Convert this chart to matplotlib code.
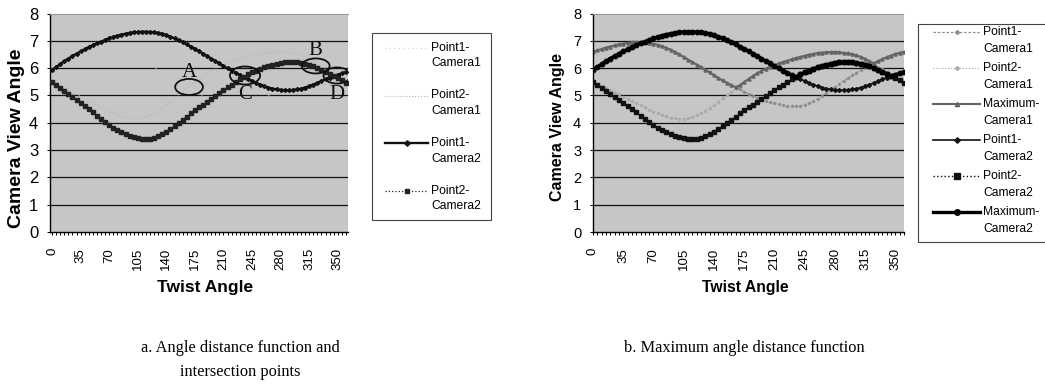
import numpy as np
import matplotlib
matplotlib.use("Agg")
import matplotlib.pyplot as plt
from matplotlib.patches import Ellipse, Rectangle
from matplotlib.lines import Line2D

# ---------------- data ----------------
twist_angle = list(range(0, 361, 5))
x_tick_values = [0, 35, 70, 105, 140, 175, 210, 245, 280, 315, 350]
y_tick_values = [0, 1, 2, 3, 4, 5, 6, 7, 8]

point1_camera1 = [6.60, 6.65, 6.70, 6.75, 6.79, 6.83, 6.87, 6.90, 6.92, 6.94, 6.95, 6.95, 6.94,
                  6.92, 6.89, 6.85, 6.80, 6.74, 6.67, 6.59, 6.50, 6.41, 6.31, 6.22, 6.13, 6.04,
                  5.94, 5.84, 5.74, 5.64, 5.55, 5.46, 5.38, 5.30, 5.22, 5.14, 5.06, 4.99, 4.92,
                  4.86, 4.80, 4.75, 4.71, 4.67, 4.64, 4.62, 4.61, 4.61, 4.63, 4.66, 4.71, 4.79,
                  4.88, 4.98, 5.09, 5.20, 5.31, 5.42, 5.53, 5.63, 5.73, 5.83, 5.92, 6.01, 6.10,
                  6.18, 6.26, 6.33, 6.40, 6.46, 6.52, 6.56, 6.60]
point2_camera1 = [5.45, 5.39, 5.33, 5.26, 5.19, 5.12, 5.04, 4.96, 4.88, 4.80, 4.72, 4.64, 4.56,
                  4.48, 4.41, 4.34, 4.28, 4.23, 4.19, 4.16, 4.15, 4.15, 4.17, 4.21, 4.27, 4.35,
                  4.44, 4.54, 4.65, 4.77, 4.89, 5.01, 5.13, 5.25, 5.37, 5.49, 5.60, 5.71, 5.81,
                  5.90, 5.98, 6.05, 6.11, 6.17, 6.22, 6.27, 6.32, 6.37, 6.41, 6.45, 6.49, 6.52,
                  6.55, 6.57, 6.58, 6.59, 6.59, 6.58, 6.56, 6.54, 6.51, 6.47, 6.41, 6.34, 6.25,
                  6.15, 6.05, 5.95, 5.85, 5.75, 5.65, 5.55, 5.45]
point1_camera2 = [5.93, 6.04, 6.15, 6.25, 6.35, 6.44, 6.53, 6.61, 6.69, 6.77, 6.84, 6.91, 6.97,
                  7.03, 7.09, 7.14, 7.19, 7.23, 7.26, 7.29, 7.31, 7.32, 7.33, 7.33, 7.32, 7.31,
                  7.29, 7.26, 7.21, 7.15, 7.09, 7.02, 6.95, 6.87, 6.79, 6.71, 6.62, 6.53, 6.44,
                  6.35, 6.26, 6.17, 6.08, 5.99, 5.91, 5.83, 5.75, 5.67, 5.60, 5.53, 5.46, 5.40,
                  5.34, 5.29, 5.25, 5.22, 5.20, 5.19, 5.19, 5.20, 5.22, 5.25, 5.29, 5.34, 5.40,
                  5.46, 5.53, 5.59, 5.65, 5.71, 5.76, 5.81, 5.86]
point2_camera2 = [5.50, 5.40, 5.29, 5.18, 5.07, 4.96, 4.85, 4.74, 4.62, 4.50, 4.38, 4.26, 4.14,
                  4.03, 3.92, 3.82, 3.73, 3.65, 3.58, 3.52, 3.47, 3.44, 3.42, 3.41, 3.42, 3.45,
                  3.50, 3.57, 3.66, 3.76, 3.87, 3.98, 4.10, 4.22, 4.35, 4.47, 4.57, 4.66, 4.77,
                  4.88, 4.98, 5.09, 5.19, 5.30, 5.40, 5.50, 5.59, 5.67, 5.77, 5.84, 5.91, 5.97,
                  6.03, 6.08, 6.12, 6.16, 6.19, 6.21, 6.22, 6.22, 6.21, 6.19, 6.16, 6.12, 6.07,
                  6.01, 5.94, 5.87, 5.79, 5.71, 5.63, 5.55, 5.47]
maximum_camera1 = np.maximum(point1_camera1, point2_camera1)
maximum_camera2 = np.maximum(point1_camera2, point2_camera2)

labels_a = ["Point1-\nCamera1", "Point2-\nCamera1", "Point1-\nCamera2", "Point2-\nCamera2"]
labels_b = ["Point1-\nCamera1", "Point2-\nCamera1", "Maximum-\nCamera1",
            "Point1-\nCamera2", "Point2-\nCamera2", "Maximum-\nCamera2"]

# annotation marks in chart a: (letter, ellipse centre, ellipse size, letter position)
marks = [("A", (167.8, 5.31), (34, 0.59), (167.8, 5.84)),
         ("B", (323.0, 6.08), (34, 0.55), (322.0, 6.64)),
         ("C", (236.4, 5.73), (37, 0.66), (236.4, 5.02)),
         ("D", (349.0, 5.73), (33, 0.59), (349.0, 5.02))]

caption_a = "a. Angle distance function and\nintersection points"
caption_b = "b. Maximum angle distance function"

# ---------------- styles ----------------
styles_a = [dict(color="#cdcdcd", lw=0.8, ls=(0, (1, 3))),
            dict(color="#b4b4b4", lw=0.8, ls=":"),
            dict(color="#111111", lw=1.7, marker="D", ms=2.0),
            dict(color="#222222", lw=0.9, ls=":", marker="s", ms=2.4)]
styles_b = [dict(color="#8e8e8e", lw=0.9, ls=(0, (2, 1.5)), marker="D", ms=1.2),
            dict(color="#aaaaaa", lw=0.8, ls=":", marker="D", ms=1.2),
            dict(color="#646464", lw=1.5, marker="^", ms=2.2),
            dict(color="#111111", lw=1.2, marker="D", ms=2.0),
            dict(color="#111111", lw=1.0, ls=":", marker="s", ms=3.0),
            dict(color="#000000", lw=2.4, marker="o", ms=3.2)]

# ---------------- figure ----------------
W, H = 1045, 391
fig = plt.figure(figsize=(W / 100, H / 100), dpi=100)
SANS = "Liberation Sans"
SERIF = "Liberation Serif"
BG = "#c6c6c6"


def fx(px):
    return px / W


def fy(py):
    return 1 - py / H


axL = fig.add_axes([fx(50), fy(232), fx(298), 218.5 / H])
axR = fig.add_axes([fx(593), fy(232), fx(311), 218.5 / H])


def style_axes(ax, xlim, ytick_size, label_size, ylabel_xy, xlabel_xy):
    ax.set_facecolor(BG)
    ax.set_xlim(*xlim)
    ax.set_ylim(0, 8)
    ax.set_yticks(y_tick_values)
    ax.set_yticklabels([str(v) for v in y_tick_values], fontsize=ytick_size, family=SANS)
    ax.set_xticks(x_tick_values)
    ax.set_xticklabels([str(v) for v in x_tick_values], rotation=90, fontsize=9.5, family=SANS)
    ax.set_xticks(twist_angle, minor=True)
    ax.tick_params(axis="x", which="both", direction="out", length=2.5, width=0.7, pad=9)
    ax.tick_params(axis="y", direction="out", length=2.5, width=0.7, pad=6)
    for y in y_tick_values[1:-1]:
        ax.axhline(y, color="#111111", lw=0.9, zorder=1)
    ax.spines["right"].set_visible(False)
    ax.spines["top"].set_color("#999999")
    ax.spines["top"].set_linestyle((0, (1, 1)))
    ax.spines["top"].set_linewidth(0.8)
    ax.spines["left"].set_linewidth(1.0)
    ax.spines["bottom"].set_linewidth(1.0)
    ax.set_ylabel("Camera View Angle", fontsize=label_size[1], fontweight="bold", family=SANS)
    ax.set_xlabel("Twist Angle", fontsize=label_size[0], fontweight="bold", family=SANS)
    ax.yaxis.set_label_coords(*ylabel_xy)
    ax.xaxis.set_label_coords(*xlabel_xy)


style_axes(axL, (-2.5, 362.5), 12, (12.5, 14), (-0.085, 0.43), (0.52, -0.22))
style_axes(axR, (0, 360), 10.5, (11.3, 11.5), (-0.09, 0.48), (0.49, -0.22))

# ---- chart a ----
series_a = [point1_camera1, point2_camera1, point1_camera2, point2_camera2]
for vals, st, z in zip(series_a, styles_a, [2, 2, 3, 3]):
    axL.plot(twist_angle, vals, zorder=z, **st)

for letter, c, (w, h), tp in marks:
    axL.add_patch(Ellipse(c, w, h, fill=False, ec="#111111", lw=1.3, zorder=4))
    axL.text(tp[0], tp[1], letter, family=SERIF, fontsize=15, ha="center", va="center",
             color="#111111", zorder=5)

# ---- chart b ----
series_b = [point1_camera1, point2_camera1, maximum_camera1,
            point1_camera2, point2_camera2, maximum_camera2]
for vals, st, z in zip(series_b, styles_b, [2, 2, 2, 3, 3, 4]):
    axR.plot(twist_angle, vals, zorder=z, **st)


# ---- legends (drawn by hand in figure pixels) ----
def draw_legend(labels, styles, x0, x1, xt, first_y, step, line_gap, box):
    for i, (lab, st) in enumerate(zip(labels, styles)):
        y = first_y + i * step
        line_st = {k: v for k, v in st.items() if k not in ("marker", "ms")}
        fig.add_artist(Line2D([fx(x0), fx(x1)], [fy(y), fy(y)], transform=fig.transFigure,
                              **line_st))
        if "marker" in st:
            fig.add_artist(Line2D([fx((x0 + x1) / 2)], [fy(y)], transform=fig.transFigure,
                                  marker=st["marker"], ms=st["ms"] + 0.8, color=st["color"],
                                  ls="none"))
        for j, part in enumerate(lab.split("\n")):
            fig.text(fx(xt), fy(y + j * line_gap), part, family=SANS, fontsize=8.7,
                     ha="left", va="center")
    bx0, by0, bx1, by1 = box
    fig.add_artist(Rectangle((fx(bx0), fy(by1)), fx(bx1 - bx0), (by1 - by0) / H,
                             transform=fig.transFigure, fill=False, ec="#444444", lw=0.8))


draw_legend(labels_a, styles_a, 385, 428, 431, 48, 47.5, 15.5, (372, 33, 491, 220))
draw_legend(labels_b, styles_b, 933, 980, 983, 32, 36, 17, (918, 24, 1070, 242))

# ---- captions ----
fig.text(fx(240), fy(340), caption_a, family=SERIF, fontsize=11.8, ha="center", va="top",
         linespacing=1.65)
fig.text(fx(744), fy(340), caption_b, family=SERIF, fontsize=11.8, ha="center", va="top")

fig.savefig("out.png", dpi=100)
